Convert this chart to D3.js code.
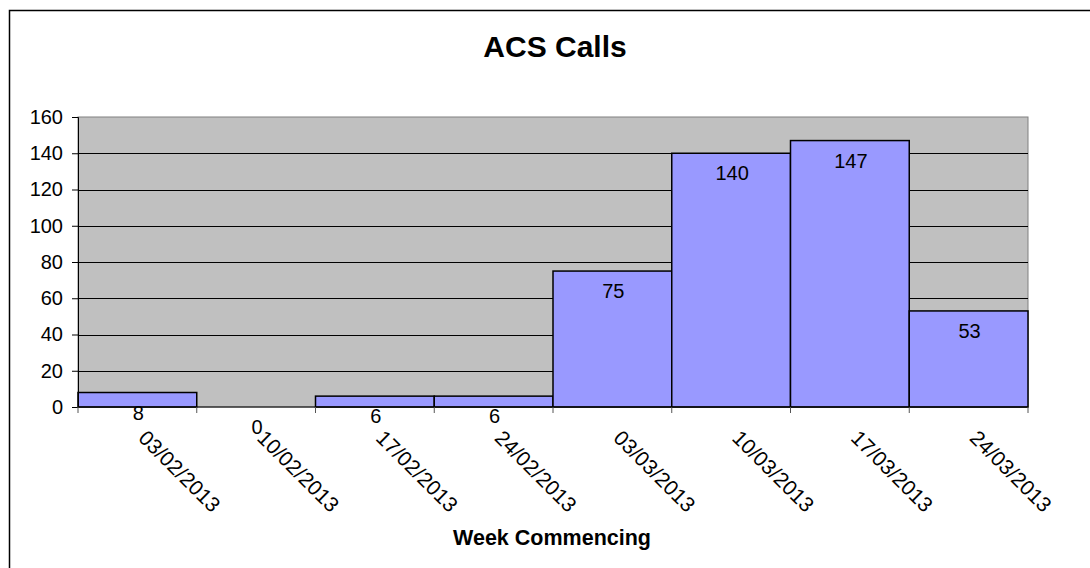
<!DOCTYPE html>
<html>
<head>
<meta charset="utf-8">
<script src="https://cdn.jsdelivr.net/npm/d3@7"></script>
<style>
  body { margin: 0; background: #fff; }
  text { font-family: Arial, 'Liberation Sans', sans-serif; fill: #000; }
</style>
</head>
<body>
<div id="chart"></div>
<script>
var weeks = ['03/02/2013', '10/02/2013', '17/02/2013', '24/02/2013',
             '03/03/2013', '10/03/2013', '17/03/2013', '24/03/2013'];
var calls = [8, 0, 6, 6, 75, 140, 147, 53];
var yTicks = [0, 20, 40, 60, 80, 100, 120, 140, 160];

var data = weeks.map(function(w, i) { return {week: w, calls: calls[i]}; });

var margin = {top: 117, right: 62, bottom: 161, left: 78},
    width = 1090 - margin.left - margin.right,
    height = 568 - margin.top - margin.bottom;

var svg = d3.select('#chart').append('svg')
    .attr('width', 1090)
    .attr('height', 568);

// outer chart border (runs off the right and bottom edges)
svg.append('rect')
    .attr('x', 9.5)
    .attr('y', 10.5)
    .attr('width', 1200)
    .attr('height', 700)
    .style('fill', '#fff')
    .style('stroke', '#000')
    .style('stroke-width', 1.5);

svg.append('text')
    .attr('x', 555)
    .attr('y', 57)
    .style('text-anchor', 'middle')
    .style('font-size', '30px')
    .style('font-weight', 'bold')
    .text('ACS Calls');

var wrapper = svg.append('g')
    .attr('transform', 'translate(' + margin.left + ',' + margin.top + ')');

var xScale = d3.scaleBand().domain(weeks).range([0, width]).padding(0),
    yScale = d3.scaleLinear().domain([0, 160]).range([height, 0]);

// plot area
wrapper.append('rect')
    .attr('width', width)
    .attr('height', height)
    .style('fill', '#c0c0c0')
    .style('stroke', '#808080')
    .style('stroke-width', 1);

// gridlines
wrapper.selectAll('.grid')
    .data(yTicks.slice(1, -1))
  .enter().append('line')
    .attr('class', 'grid')
    .attr('x1', 0)
    .attr('x2', width)
    .attr('y1', function(d) { return Math.round(yScale(d)) + 0.5; })
    .attr('y2', function(d) { return Math.round(yScale(d)) + 0.5; })
    .style('stroke', '#000')
    .style('stroke-width', 1);

// bars
wrapper.selectAll('.bar')
    .data(data)
  .enter().append('rect')
    .attr('class', 'bar')
    .attr('x', function(d) { return xScale(d.week); })
    .attr('y', function(d) { return yScale(d.calls); })
    .attr('width', xScale.bandwidth())
    .attr('height', function(d) { return height - yScale(d.calls); })
    .style('fill', '#9999ff')
    .style('stroke', '#000')
    .style('stroke-width', 1.5);

// value labels
wrapper.selectAll('.label')
    .data(data)
  .enter().append('text')
    .attr('class', 'label')
    .attr('x', function(d) { return xScale(d.week) + xScale.bandwidth() / 2 + 1; })
    .attr('y', function(d) { return yScale(d.calls) + 20; })
    .attr('dy', '.35em')
    .style('text-anchor', 'middle')
    .style('font-size', '20px')
    .text(function(d) { return d.calls; });

// y axis
var yAxis = wrapper.append('g')
    .call(d3.axisLeft(yScale).tickValues(yTicks).tickSize(6).tickPadding(9));
yAxis.select('.domain').style('stroke', '#000');
yAxis.selectAll('line').style('stroke', '#000');
yAxis.selectAll('text')
    .style('font-size', '20px')
    .style('font-family', 'Arial, "Liberation Sans", sans-serif');

// x axis: ticks sit at the band boundaries
var xAxis = wrapper.append('g')
    .attr('transform', 'translate(0,' + height + ')');
xAxis.append('line')
    .attr('x1', 0)
    .attr('x2', width)
    .style('stroke', '#000');
xAxis.selectAll('.tick')
    .data(d3.range(weeks.length + 1))
  .enter().append('line')
    .attr('x1', function(i) { return i * xScale.step(); })
    .attr('x2', function(i) { return i * xScale.step(); })
    .attr('y2', 6)
    .style('stroke', '#555');

xAxis.selectAll('.tick-label')
    .data(weeks)
  .enter().append('text')
    .attr('class', 'tick-label')
    .attr('transform', function(d) {
      return 'translate(' + (xScale(d) + xScale.bandwidth() / 2 + 5) + ',27) rotate(45)';
    })
    .attr('dy', '.35em')
    .style('text-anchor', 'start')
    .style('font-size', '21px')
    .text(function(d) { return d; });

svg.append('text')
    .attr('x', 552)
    .attr('y', 545)
    .style('text-anchor', 'middle')
    .style('font-size', '21.5px')
    .style('font-weight', 'bold')
    .text('Week Commencing');
</script>
</body>
</html>
